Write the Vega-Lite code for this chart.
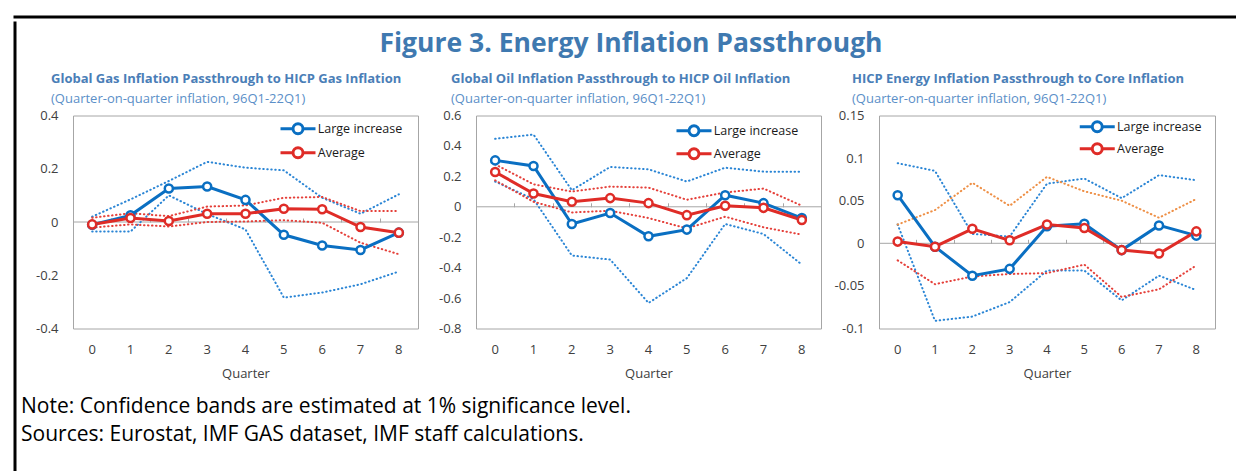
{
  "$schema": "https://vega.github.io/schema/vega-lite/v6.json",
  "background": "white",
  "padding": {"left": 10.5, "top": 12.5, "right": 0, "bottom": 0},
  "datasets": {
    "rows": [
      {"p": "gas", "q": 0, "Large increase": -0.01, "Average": -0.009, "LIU": 0.02, "LIL": -0.036, "AVU": 0.016, "AVL": -0.021},
      {"p": "gas", "q": 1, "Large increase": 0.025, "Average": 0.015, "LIU": 0.085, "LIL": -0.036, "AVU": 0.033, "AVL": -0.009},
      {"p": "gas", "q": 2, "Large increase": 0.126, "Average": 0.004, "LIU": 0.154, "LIL": 0.1, "AVU": 0.022, "AVL": -0.017},
      {"p": "gas", "q": 3, "Large increase": 0.133, "Average": 0.031, "LIU": 0.226, "LIL": 0.03, "AVU": 0.058, "AVL": 0.0},
      {"p": "gas", "q": 4, "Large increase": 0.083, "Average": 0.031, "LIU": 0.204, "LIL": -0.028, "AVU": 0.062, "AVL": 0.002},
      {"p": "gas", "q": 5, "Large increase": -0.048, "Average": 0.05, "LIU": 0.194, "LIL": -0.284, "AVU": 0.091, "AVL": 0.007},
      {"p": "gas", "q": 6, "Large increase": -0.088, "Average": 0.048, "LIU": 0.091, "LIL": -0.265, "AVU": 0.094, "AVL": -0.003},
      {"p": "gas", "q": 7, "Large increase": -0.105, "Average": -0.019, "LIU": 0.031, "LIL": -0.234, "AVU": 0.041, "AVL": -0.078},
      {"p": "gas", "q": 8, "Large increase": -0.04, "Average": -0.04, "LIU": 0.104, "LIL": -0.186, "AVU": 0.041, "AVL": -0.121},
      {"p": "oil", "q": 0, "Large increase": 0.305, "Average": 0.229, "LIU": 0.447, "LIL": 0.166, "AVU": 0.279, "AVL": 0.174},
      {"p": "oil", "q": 1, "Large increase": 0.268, "Average": 0.087, "LIU": 0.475, "LIL": 0.05, "AVU": 0.148, "AVL": 0.033},
      {"p": "oil", "q": 2, "Large increase": -0.113, "Average": 0.033, "LIU": 0.109, "LIL": -0.32, "AVU": 0.1, "AVL": -0.037},
      {"p": "oil", "q": 3, "Large increase": -0.041, "Average": 0.057, "LIU": 0.262, "LIL": -0.347, "AVU": 0.133, "AVL": -0.026},
      {"p": "oil", "q": 4, "Large increase": -0.194, "Average": 0.024, "LIU": 0.246, "LIL": -0.632, "AVU": 0.126, "AVL": -0.074},
      {"p": "oil", "q": 5, "Large increase": -0.15, "Average": -0.055, "LIU": 0.166, "LIL": -0.469, "AVU": 0.046, "AVL": -0.142},
      {"p": "oil", "q": 6, "Large increase": 0.076, "Average": 0.007, "LIU": 0.257, "LIL": -0.113, "AVU": 0.094, "AVL": -0.065},
      {"p": "oil", "q": 7, "Large increase": 0.024, "Average": -0.007, "LIU": 0.231, "LIL": -0.179, "AVU": 0.12, "AVL": -0.135},
      {"p": "oil", "q": 8, "Large increase": -0.074, "Average": -0.087, "LIU": 0.231, "LIL": -0.38, "AVU": 0.007, "AVL": -0.183},
      {"p": "core", "q": 0, "Large increase": 0.0565, "Average": 0.002, "LIU": 0.094, "LIL": 0.022, "AVU": 0.022, "AVL": -0.02},
      {"p": "core", "q": 1, "Large increase": -0.004, "Average": -0.004, "LIU": 0.085, "LIL": -0.091, "AVU": 0.039, "AVL": -0.048},
      {"p": "core", "q": 2, "Large increase": -0.038, "Average": 0.017, "LIU": 0.011, "LIL": -0.086, "AVU": 0.071, "AVL": -0.039},
      {"p": "core", "q": 3, "Large increase": -0.03, "Average": 0.0035, "LIU": 0.008, "LIL": -0.069, "AVU": 0.044, "AVL": -0.036},
      {"p": "core", "q": 4, "Large increase": 0.02, "Average": 0.022, "LIU": 0.07, "LIL": -0.032, "AVU": 0.078, "AVL": -0.035},
      {"p": "core", "q": 5, "Large increase": 0.023, "Average": 0.018, "LIU": 0.076, "LIL": -0.032, "AVU": 0.061, "AVL": -0.025},
      {"p": "core", "q": 6, "Large increase": -0.008, "Average": -0.008, "LIU": 0.053, "LIL": -0.067, "AVU": 0.05, "AVL": -0.063},
      {"p": "core", "q": 7, "Large increase": 0.021, "Average": -0.012, "LIU": 0.08, "LIL": -0.038, "AVU": 0.03, "AVL": -0.054},
      {"p": "core", "q": 8, "Large increase": 0.009, "Average": 0.014, "LIU": 0.074, "LIL": -0.055, "AVU": 0.052, "AVL": -0.026}
    ]
  },
  "spacing": 0,
  "vconcat": [
    {
      "width": 1222,
      "height": 1,
      "view": {"stroke": "#000000", "strokeWidth": 2, "fill": null},
      "data": {"values": [{}]},
      "mark": {"type": "point", "opacity": 0},
      "encoding": {}
    },
    {
      "spacing": 1.5,
      "hconcat": [
        {
          "width": 1,
          "height": 452,
          "view": {"stroke": "#000000", "strokeWidth": 2, "fill": null},
          "data": {"values": [{}]},
          "mark": {"type": "point", "opacity": 0},
          "encoding": {}
        },
        {
          "spacing": 3,
          "vconcat": [
            {
              "width": 1190,
              "height": 46,
              "view": {"stroke": null},
              "data": {"values": [{"t": "Figure 3. Energy Inflation Passthrough"}]},
              "mark": {"type": "text", "fontSize": 26.5, "fontWeight": "bold", "color": "#3f79b0", "font": "Open Sans", "dx": -37, "dy": -2},
              "encoding": {"text": {"field": "t", "type": "nominal"}}
            },
            {
              "title": {
                "text": ["Note: Confidence bands are estimated at 1% significance level.", "Sources: Eurostat, IMF GAS dataset, IMF staff calculations."],
                "orient": "bottom",
                "anchor": "start",
                "fontSize": 21,
                "lineHeight": 28,
                "fontWeight": "normal",
                "color": "#000000",
                "offset": 14.5,
                "dx": -14
              },
              "spacing": 58,
              "bounds": "flush",
              "resolve": {"scale": {"color": "independent", "stroke": "independent"}, "legend": {"color": "independent"}},
              "hconcat": [
                {
                  "width": 345,
                  "height": 213,
                  "title": {
                    "text": "Global Gas Inflation Passthrough to HICP Gas Inflation",
                    "subtitle": "(Quarter-on-quarter inflation, 96Q1-22Q1)",
                    "anchor": "start", "frame": "group", "dx": -22,
                    "fontSize": 13, "fontWeight": "bold", "color": "#4a7eb7",
                    "subtitleFontSize": 13, "subtitleColor": "#5b8fc8", "subtitlePadding": 7, "offset": 4
                  },
                  "data": {"name": "rows"},
                  "transform": [
                    {"filter": "datum.p == 'gas'"},
                    {"fold": ["Large increase", "Average", "LIU", "LIL", "AVU", "AVL"], "as": ["s", "v"]}
                  ],
                  "layer": [
                    {
                      "transform": [{"aggregate": [{"op": "count", "as": "n"}]}],
                      "mark": {"type": "rule", "color": "#a6a6a6", "strokeWidth": 1},
                      "encoding": {
                        "y": {"datum": 0, "type": "quantitative", "scale": {"domain": [-0.4, 0.4], "nice": false, "zero": false},
                              "axis": {"values": [-0.4, -0.2, 0, 0.2, 0.4], "labelExpr": "'' + datum.value", "ticks": false, "tickSize": 0, "domain": false, "labelPadding": 15, "title": null, "grid": false}}
                      }
                    },
                    {
                      "transform": [{"filter": {"field": "s", "oneOf": ["LIU", "LIL", "AVU", "AVL"]}}],
                      "mark": {"type": "line", "strokeWidth": 2, "strokeDash": [0.5, 3.5], "strokeCap": "round"},
                      "encoding": {
                        "x": {"field": "q", "type": "ordinal", "bandPosition": 0.5, "scale": {"type": "band", "paddingInner": 0, "paddingOuter": 0},
                              "axis": {"orient": "bottom", "title": null, "labels": false, "domain": false, "ticks": true, "tickBand": "extent", "tickSize": -4, "tickColor": "#a6a6a6", "offset": -106.5, "grid": false}},
                        "y": {"field": "v", "type": "quantitative", "scale": {"domain": [-0.4, 0.4], "nice": false, "zero": false},
                              "axis": {"values": [-0.4, -0.2, 0, 0.2, 0.4], "labelExpr": "'' + datum.value", "ticks": false, "tickSize": 0, "domain": false, "labelPadding": 15, "title": null, "grid": false}},
                        "stroke": {"field": "s", "type": "nominal", "scale": {"domain": ["LIU", "LIL", "AVU", "AVL"], "range": ["#2a85d5", "#2a85d5", "#e5403a", "#e5403a"]}, "legend": null},
                        "detail": {"field": "s"}
                      }
                    },
                    {
                      "transform": [{"filter": {"field": "s", "oneOf": ["Large increase", "Average"]}}],
                      "mark": {"type": "line", "strokeWidth": 3, "point": {"filled": false, "fill": "white", "size": 65, "strokeWidth": 2.5}},
                      "encoding": {
                        "x": {"field": "q", "type": "ordinal", "bandPosition": 0.5, "scale": {"type": "band", "paddingInner": 0, "paddingOuter": 0},
                              "axis": {"orient": "bottom", "title": "Quarter", "labelAngle": 0, "domain": false, "ticks": false, "tickSize": 0, "labelPadding": 15, "titlePadding": 11, "grid": false}},
                        "y": {"field": "v", "type": "quantitative", "scale": {"domain": [-0.4, 0.4], "nice": false, "zero": false},
                              "axis": {"values": [-0.4, -0.2, 0, 0.2, 0.4], "labelExpr": "'' + datum.value", "ticks": false, "tickSize": 0, "domain": false, "labelPadding": 15, "title": null, "grid": false}},
                        "color": {"field": "s", "type": "nominal", "scale": {"domain": ["Large increase", "Average"], "range": ["#0a6fc2", "#df2c27"]},
                                  "legend": {"orient": "none", "legendX": 212.5, "legendY": 0.75, "title": null, "padding": 0, "rowPadding": 0, "labelOffset": 7.25,
                                             "symbolType": "M-1.59,0L-0.51,0M0.51,0L1.59,0M-0.455,0A0.455,0.455,0,1,1,0.455,0A0.455,0.455,0,1,1,-0.455,0Z",
                                             "symbolSize": 484, "symbolStrokeWidth": 3, "symbolFillColor": "white"}}
                      }
                    }
                  ],
                  "resolve": {"axis": {"x": "independent"}}
                },
                {
                  "width": 345,
                  "height": 213,
                  "title": {
                    "text": "Global Oil Inflation Passthrough to HICP Oil Inflation",
                    "subtitle": "(Quarter-on-quarter inflation, 96Q1-22Q1)",
                    "anchor": "start", "frame": "group", "dx": -25,
                    "fontSize": 13, "fontWeight": "bold", "color": "#4a7eb7",
                    "subtitleFontSize": 13, "subtitleColor": "#5b8fc8", "subtitlePadding": 7, "offset": 4
                  },
                  "data": {"name": "rows"},
                  "transform": [
                    {"filter": "datum.p == 'oil'"},
                    {"fold": ["Large increase", "Average", "LIU", "LIL", "AVU", "AVL"], "as": ["s", "v"]}
                  ],
                  "layer": [
                    {
                      "transform": [{"aggregate": [{"op": "count", "as": "n"}]}],
                      "mark": {"type": "rule", "color": "#a6a6a6", "strokeWidth": 1},
                      "encoding": {
                        "y": {"datum": 0, "type": "quantitative", "scale": {"domain": [-0.8, 0.6], "nice": false, "zero": false},
                              "axis": {"values": [-0.8, -0.6, -0.4, -0.2, 0, 0.2, 0.4, 0.6], "labelExpr": "'' + datum.value", "ticks": false, "tickSize": 0, "domain": false, "labelPadding": 15, "title": null, "grid": false}}
                      }
                    },
                    {
                      "transform": [{"filter": {"field": "s", "oneOf": ["LIU", "LIL", "AVU", "AVL"]}}],
                      "mark": {"type": "line", "strokeWidth": 2, "strokeDash": [0.5, 3.5], "strokeCap": "round"},
                      "encoding": {
                        "x": {"field": "q", "type": "ordinal", "bandPosition": 0.5, "scale": {"type": "band", "paddingInner": 0, "paddingOuter": 0},
                              "axis": {"orient": "bottom", "title": null, "labels": false, "domain": false, "ticks": true, "tickBand": "extent", "tickSize": -4, "tickColor": "#a6a6a6", "offset": -121.7, "grid": false}},
                        "y": {"field": "v", "type": "quantitative", "scale": {"domain": [-0.8, 0.6], "nice": false, "zero": false},
                              "axis": {"values": [-0.8, -0.6, -0.4, -0.2, 0, 0.2, 0.4, 0.6], "labelExpr": "'' + datum.value", "ticks": false, "tickSize": 0, "domain": false, "labelPadding": 15, "title": null, "grid": false}},
                        "stroke": {"field": "s", "type": "nominal", "scale": {"domain": ["LIU", "LIL", "AVU", "AVL"], "range": ["#2a85d5", "#2a85d5", "#e5403a", "#e5403a"]}, "legend": null},
                        "detail": {"field": "s"}
                      }
                    },
                    {
                      "transform": [{"filter": {"field": "s", "oneOf": ["Large increase", "Average"]}}],
                      "mark": {"type": "line", "strokeWidth": 3, "point": {"filled": false, "fill": "white", "size": 65, "strokeWidth": 2.5}},
                      "encoding": {
                        "x": {"field": "q", "type": "ordinal", "bandPosition": 0.5, "scale": {"type": "band", "paddingInner": 0, "paddingOuter": 0},
                              "axis": {"orient": "bottom", "title": "Quarter", "labelAngle": 0, "domain": false, "ticks": false, "tickSize": 0, "labelPadding": 15, "titlePadding": 11, "grid": false}},
                        "y": {"field": "v", "type": "quantitative", "scale": {"domain": [-0.8, 0.6], "nice": false, "zero": false},
                              "axis": {"values": [-0.8, -0.6, -0.4, -0.2, 0, 0.2, 0.4, 0.6], "labelExpr": "'' + datum.value", "ticks": false, "tickSize": 0, "domain": false, "labelPadding": 15, "title": null, "grid": false}},
                        "color": {"field": "s", "type": "nominal", "scale": {"domain": ["Large increase", "Average"], "range": ["#0a6fc2", "#df2c27"]},
                                  "legend": {"orient": "none", "legendX": 206, "legendY": 3.25, "title": null, "padding": 0, "rowPadding": 0, "labelOffset": 7.75,
                                             "symbolType": "M-1.667,0L-0.533,0M0.533,0L1.667,0M-0.476,0A0.476,0.476,0,1,1,0.476,0A0.476,0.476,0,1,1,-0.476,0Z",
                                             "symbolSize": 441, "symbolStrokeWidth": 3, "symbolFillColor": "white"}}
                      }
                    }
                  ],
                  "resolve": {"axis": {"x": "independent"}}
                },
                {
                  "width": 336,
                  "height": 213,
                  "title": {
                    "text": "HICP Energy Inflation Passthrough to Core Inflation",
                    "subtitle": "(Quarter-on-quarter  inflation, 96Q1-22Q1)",
                    "anchor": "start", "frame": "group", "dx": -27,
                    "fontSize": 13, "fontWeight": "bold", "color": "#4a7eb7",
                    "subtitleFontSize": 13, "subtitleColor": "#5b8fc8", "subtitlePadding": 7, "offset": 4
                  },
                  "data": {"name": "rows"},
                  "transform": [
                    {"filter": "datum.p == 'core'"},
                    {"fold": ["Large increase", "Average", "LIU", "LIL", "AVU", "AVL"], "as": ["s", "v"]}
                  ],
                  "layer": [
                    {
                      "transform": [{"aggregate": [{"op": "count", "as": "n"}]}],
                      "mark": {"type": "rule", "color": "#a6a6a6", "strokeWidth": 1},
                      "encoding": {
                        "y": {"datum": 0, "type": "quantitative", "scale": {"domain": [-0.1, 0.15], "nice": false, "zero": false},
                              "axis": {"values": [-0.1, -0.05, 0, 0.05, 0.1, 0.15], "labelExpr": "'' + datum.value", "ticks": false, "tickSize": 0, "domain": false, "labelPadding": 15, "title": null, "grid": false}}
                      }
                    },
                    {
                      "transform": [{"filter": {"field": "s", "oneOf": ["LIU", "LIL", "AVU", "AVL"]}}],
                      "mark": {"type": "line", "strokeWidth": 2, "strokeDash": [0.5, 3.5], "strokeCap": "round"},
                      "encoding": {
                        "x": {"field": "q", "type": "ordinal", "bandPosition": 0.5, "scale": {"type": "band", "paddingInner": 0, "paddingOuter": 0},
                              "axis": {"orient": "bottom", "title": null, "labels": false, "domain": false, "ticks": true, "tickBand": "extent", "tickSize": -4, "tickColor": "#a6a6a6", "offset": -85.2, "grid": false}},
                        "y": {"field": "v", "type": "quantitative", "scale": {"domain": [-0.1, 0.15], "nice": false, "zero": false},
                              "axis": {"values": [-0.1, -0.05, 0, 0.05, 0.1, 0.15], "labelExpr": "'' + datum.value", "ticks": false, "tickSize": 0, "domain": false, "labelPadding": 15, "title": null, "grid": false}},
                        "stroke": {"field": "s", "type": "nominal", "scale": {"domain": ["LIU", "LIL", "AVU", "AVL"], "range": ["#2a85d5", "#2a85d5", "#ee8f45", "#e5403a"]}, "legend": null},
                        "detail": {"field": "s"}
                      }
                    },
                    {
                      "transform": [{"filter": {"field": "s", "oneOf": ["Large increase", "Average"]}}],
                      "mark": {"type": "line", "strokeWidth": 3, "point": {"filled": false, "fill": "white", "size": 65, "strokeWidth": 2.5}},
                      "encoding": {
                        "x": {"field": "q", "type": "ordinal", "bandPosition": 0.5, "scale": {"type": "band", "paddingInner": 0, "paddingOuter": 0},
                              "axis": {"orient": "bottom", "title": "Quarter", "labelAngle": 0, "domain": false, "ticks": false, "tickSize": 0, "labelPadding": 15, "titlePadding": 11, "grid": false}},
                        "y": {"field": "v", "type": "quantitative", "scale": {"domain": [-0.1, 0.15], "nice": false, "zero": false},
                              "axis": {"values": [-0.1, -0.05, 0, 0.05, 0.1, 0.15], "labelExpr": "'' + datum.value", "ticks": false, "tickSize": 0, "domain": false, "labelPadding": 15, "title": null, "grid": false}},
                        "color": {"field": "s", "type": "nominal", "scale": {"domain": ["Large increase", "Average"], "range": ["#0a6fc2", "#df2c27"]},
                                  "legend": {"orient": "none", "legendX": 207.25, "legendY": 0.25, "title": null, "padding": 0, "rowPadding": 0, "labelOffset": 8.75,
                                             "symbolType": "M-1.842,0L-0.589,0M0.589,0L1.842,0M-0.526,0A0.526,0.526,0,1,1,0.526,0A0.526,0.526,0,1,1,-0.526,0Z",
                                             "symbolSize": 361, "symbolStrokeWidth": 3, "symbolFillColor": "white"}}
                      }
                    }
                  ],
                  "resolve": {"axis": {"x": "independent"}}
                }
              ]
            }
          ]
        }
      ]
    }
  ],
  "config": {
    "font": "Open Sans",
    "view": {"stroke": "#a6a6a6", "strokeWidth": 1},
    "axis": {"labelFont": "Open Sans", "titleFont": "Open Sans", "labelColor": "#404040", "titleColor": "#404040", "labelFontSize": 13, "titleFontSize": 13, "titleFontWeight": "normal", "grid": false},
    "legend": {"labelFont": "Open Sans", "labelFontSize": 12.5, "labelColor": "#1a1a1a"},
    "title": {"font": "Open Sans"}
  }
}
